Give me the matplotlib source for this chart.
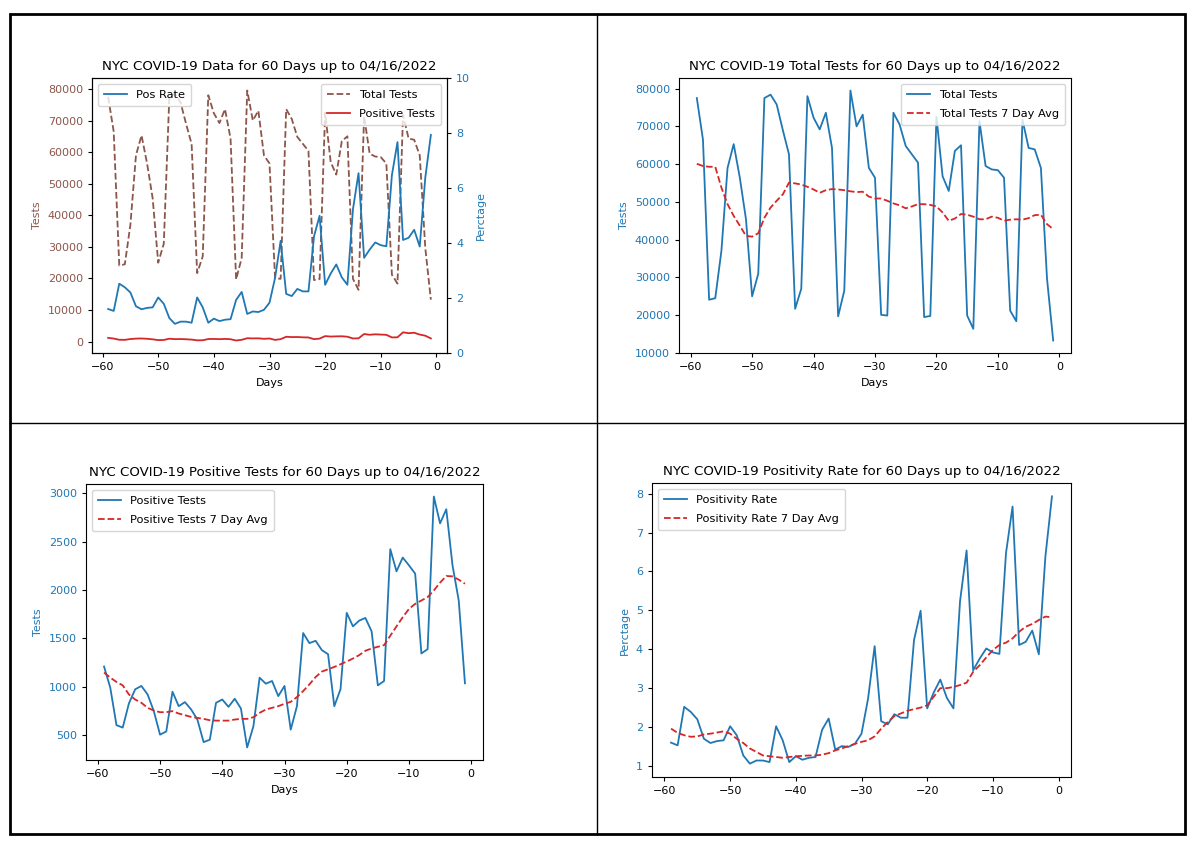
import matplotlib
matplotlib.use("Agg")
import matplotlib.pyplot as plt
from matplotlib.lines import Line2D
from matplotlib.patches import Rectangle

days = list(range(-59, 0))

total_tests = [77500, 66500, 24100, 24500, 37000, 59000, 65300, 56400, 45400, 25000,
               31000, 77500, 78400, 75800, 69000, 62600, 21700, 27000, 78000, 72300,
               69200, 73600, 64300, 19700, 26500, 79500, 70000, 73100, 59000, 56400,
               20100, 19900, 73600, 70500, 64800, 62600, 60400, 19500, 19800, 72500,
               56800, 52900, 63500, 65000, 19900, 16400, 71400, 59500, 58600, 58400,
               56400, 21200, 18400, 71800, 64300, 63900, 59000, 29600, 13300]

total_avg = [60100, 59500, 59300, 59300, 53800, 49400, 46300, 43700, 41000, 40800,
             41700, 45800, 48500, 50300, 52000, 55100, 54900, 54600, 54000, 53300,
             52400, 53100, 53400, 53300, 53100, 52800, 52600, 52700, 51400, 50900,
             50900, 50300, 49600, 49100, 48300, 48800, 49400, 49400, 49200, 48800,
             47200, 45000, 45600, 46800, 46600, 46100, 45400, 45400, 46100, 45800,
             45000, 45300, 45400, 45300, 45700, 46500, 46600, 44100, 42800]

positive_tests = [1210, 992, 605, 580, 830, 975, 1010, 922, 750, 507,
                  540, 950, 801, 843, 767, 663, 430, 455, 836, 870,
                  794, 878, 777, 375, 593, 1095, 1033, 1061, 905, 1010,
                  559, 801, 1556, 1452, 1476, 1380, 1338, 801, 975, 1764,
                  1625, 1684, 1712, 1573, 1016, 1061, 2422, 2193, 2335, 2255,
                  2169, 1345, 1390, 2965, 2688, 2834, 2255, 1892, 1037]

positive_avg = [1148, 1096, 1051, 1016, 922, 870, 836, 784, 756, 739,
                739, 750, 725, 708, 690, 680, 670, 656, 652, 652,
                652, 663, 670, 670, 687, 732, 767, 784, 801, 826,
                846, 895, 957, 1026, 1102, 1158, 1182, 1206, 1234, 1262,
                1293, 1328, 1373, 1397, 1414, 1431, 1528, 1625, 1719, 1805,
                1857, 1892, 1927, 1996, 2076, 2145, 2141, 2107, 2065]

pos_rate = [1.60, 1.53, 2.52, 2.39, 2.20, 1.70, 1.59, 1.64, 1.66, 2.02,
            1.79, 1.27, 1.06, 1.14, 1.14, 1.10, 2.02, 1.66, 1.10, 1.25,
            1.16, 1.21, 1.23, 1.93, 2.22, 1.42, 1.51, 1.49, 1.57, 1.83,
            2.73, 4.08, 2.15, 2.07, 2.33, 2.24, 2.24, 4.24, 4.99, 2.48,
            2.89, 3.22, 2.75, 2.48, 5.23, 6.54, 3.46, 3.76, 4.02, 3.92,
            3.88, 6.47, 7.67, 4.11, 4.19, 4.48, 3.87, 6.38, 7.93]

rate_avg = [1.96, 1.85, 1.79, 1.75, 1.76, 1.81, 1.83, 1.86, 1.89, 1.83,
            1.70, 1.59, 1.45, 1.36, 1.27, 1.25, 1.23, 1.21, 1.23, 1.25,
            1.26, 1.27, 1.27, 1.29, 1.33, 1.40, 1.45, 1.51, 1.57, 1.62,
            1.66, 1.76, 1.96, 2.13, 2.28, 2.35, 2.42, 2.46, 2.50, 2.56,
            2.78, 3.00, 3.00, 3.03, 3.08, 3.14, 3.42, 3.59, 3.79, 3.98,
            4.11, 4.17, 4.28, 4.45, 4.58, 4.65, 4.75, 4.84, 4.82]

W, H = 1200, 855
fig = plt.figure(figsize=(W / 100, H / 100), dpi=100)

TICK = 8
TITLE = 9.6
LW = 1.3
BLUE = "tab:blue"
BROWN = "tab:brown"
RED = "tab:red"
LEG = dict(fontsize=8.2, labelspacing=0.8, borderpad=0.55)


def add_ax(left, top, right, bottom):
    return fig.add_axes([left / W, 1 - bottom / H, (right - left) / W, (bottom - top) / H])


def style(ax, color_y):
    ax.tick_params(labelsize=TICK, width=0.8, length=3)
    ax.tick_params(axis="y", labelcolor=color_y)
    for s in ax.spines.values():
        s.set_linewidth(0.8)


# Panel 1
ax1 = add_ax(92, 78, 447, 353)
ax1.plot(days, total_tests, "--", color=BROWN, lw=LW, label="Total Tests")
ax1.plot(days, positive_tests, "-", color=RED, lw=LW, label="Positive Tests")
ax1.set_ylabel("Tests", color=BROWN, fontsize=TICK)
ax1.set_xlabel("Days", fontsize=TICK)
ax1.set_title("NYC COVID-19 Data for 60 Days up to 04/16/2022", fontsize=TITLE)
style(ax1, BROWN)
ax1.legend(loc="upper right", **LEG)
ax1b = ax1.twinx()
ax1b.plot(days, pos_rate, "-", color=BLUE, lw=LW, label="Pos Rate")
ax1b.set_ylim(0, 10)
ax1b.set_ylabel("Perctage", color=BLUE, fontsize=TICK)
style(ax1b, BLUE)
ax1b.legend(loc="upper left", **LEG)

# Panel 2
ax2 = add_ax(679, 78, 1071, 353)
ax2.plot(days, total_tests, "-", color=BLUE, lw=LW, label="Total Tests")
ax2.plot(days, total_avg, "--", color=RED, lw=LW, label="Total Tests 7 Day Avg")
ax2.set_ylabel("Tests", color=BLUE, fontsize=TICK)
ax2.set_xlabel("Days", fontsize=TICK)
ax2.set_title("NYC COVID-19 Total Tests for 60 Days up to 04/16/2022", fontsize=TITLE)
style(ax2, BLUE)
ax2.legend(loc="upper right", **LEG)

# Panel 3
ax3 = add_ax(86, 484, 483, 760)
ax3.plot(days, positive_tests, "-", color=BLUE, lw=LW, label="Positive Tests")
ax3.plot(days, positive_avg, "--", color=RED, lw=LW, label="Positive Tests 7 Day Avg")
ax3.set_ylabel("Tests", color=BLUE, fontsize=TICK)
ax3.set_xlabel("Days", fontsize=TICK)
ax3.set_title("NYC COVID-19 Positive Tests for 60 Days up to 04/16/2022", fontsize=TITLE)
style(ax3, BLUE)
ax3.legend(loc="upper left", **LEG)

# Panel 4
ax4 = add_ax(652, 483, 1071, 777)
ax4.plot(days, pos_rate, "-", color=BLUE, lw=LW, label="Positivity Rate")
ax4.plot(days, rate_avg, "--", color=RED, lw=LW, label="Positivity Rate 7 Day Avg")
ax4.set_ylabel("Perctage", color=BLUE, fontsize=TICK)
ax4.set_title("NYC COVID-19 Positivity Rate for 60 Days up to 04/16/2022", fontsize=TITLE)
style(ax4, BLUE)
ax4.legend(loc="upper left", **LEG)

# Frame and grid lines
fig.add_artist(Rectangle((10 / W, 1 - 834 / H), (1185 - 10) / W, (834 - 14) / H,
                         transform=fig.transFigure, fill=False, edgecolor="black", lw=2))
fig.add_artist(Line2D([597 / W, 597 / W], [1 - 14 / H, 1 - 834 / H],
                      transform=fig.transFigure, color="black", lw=1))
fig.add_artist(Line2D([10 / W, 1185 / W], [1 - 423 / H, 1 - 423 / H],
                      transform=fig.transFigure, color="black", lw=1))

fig.savefig("out.png", dpi=100)
